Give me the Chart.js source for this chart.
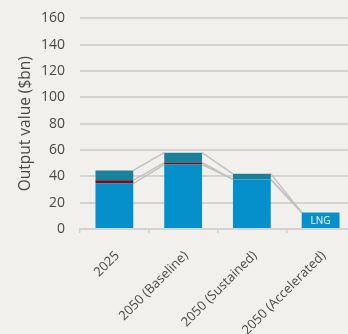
<!DOCTYPE html>
<html>
<head>
<meta charset="utf-8">
<script src="https://cdn.jsdelivr.net/npm/chart.js@4"></script>
<style>
  html, body { margin: 0; padding: 0; background: #f2f0ec; overflow: hidden; }
  #wrap { width: 360px; height: 339px; margin-top: -5px; }
</style>
</head>
<body>
<div id="wrap"><canvas id="chart"></canvas></div>
<script>
const categories = ['2025', '2050 (Baseline)', '2050 (Sustained)', '2050 (Accelerated)'];
const baseValues = [34.5, 49, 37.7, 12.5];
const midValues = [2.5, 1.5, 0, 0];
const topValues = [7.5, 7.5, 4.2, 0];
const barLabels = ['', '', '', 'LNG'];
const yTickValues = [0, 20, 40, 60, 80, 100, 120, 140, 160];

const textColor = '#484848';
const gridColor = '#d6d3ce';

// thin grey lines joining each segment top to the same segment on the next bar
const seriesLines = {
    id: 'seriesLines',
    beforeDatasetsDraw(chart) {
        const ctx = chart.ctx;
        ctx.save();
        ctx.strokeStyle = '#c4c2be';
        ctx.lineWidth = 1.5;
        chart.data.datasets.forEach((ds, di) => {
            const bars = chart.getDatasetMeta(di).data;
            for (let i = 0; i < bars.length - 1; i++) {
                const a = bars[i], b = bars[i + 1];
                ctx.beginPath();
                ctx.moveTo(a.x + a.width / 2, a.y);
                ctx.lineTo(b.x - b.width / 2, b.y);
                ctx.stroke();
            }
        });
        ctx.restore();
    }
};

// text written inside the lower segment
const barText = {
    id: 'barText',
    afterDatasetsDraw(chart) {
        const ctx = chart.ctx;
        const bars = chart.getDatasetMeta(0).data;
        ctx.save();
        ctx.fillStyle = '#ffffff';
        ctx.font = '10px "Open Sans"';
        ctx.textAlign = 'center';
        ctx.textBaseline = 'middle';
        barLabels.forEach((t, i) => {
            if (!t) return;
            const el = bars[i];
            ctx.fillText(t, el.x, (el.y + el.base) / 2 + 1);
        });
        ctx.restore();
    }
};

const ctx = document.getElementById('chart').getContext('2d');

new Chart(ctx, {
    type: 'bar',
    data: {
        labels: categories,
        datasets: [
            { label: 'base', data: baseValues, backgroundColor: '#0590cc' },
            { label: 'mid', data: midValues, backgroundColor: '#6a1020' },
            { label: 'top', data: topValues, backgroundColor: '#19829a' }
        ]
    },
    options: {
        responsive: true,
        maintainAspectRatio: false,
        animation: false,
        layout: { padding: { top: 12, right: 5, left: 16, bottom: 0 } },
        datasets: {
            bar: { categoryPercentage: 1, barPercentage: 0.55, borderWidth: 0 }
        },
        scales: {
            x: {
                stacked: true,
                offset: true,
                grid: { offset: true, drawOnChartArea: false, color: gridColor, tickLength: 4, lineWidth: 1.5 },
                border: { color: gridColor, width: 1.5 },
                ticks: {
                    color: textColor,
                    font: { family: 'Open Sans', size: 13 },
                    minRotation: 45,
                    maxRotation: 45,
                    padding: 15,
                    labelOffset: 3
                },
                afterFit(scale) { scale.height = 105; }
            },
            y: {
                stacked: true,
                min: 0,
                max: 160,
                afterBuildTicks(scale) {
                    scale.ticks = yTickValues.map(v => ({ value: v }));
                },
                grid: { color: gridColor, lineWidth: 2, drawTicks: false },
                border: { display: false },
                ticks: {
                    color: textColor,
                    font: { family: 'Open Sans', size: 14 },
                    padding: 15
                },
                title: {
                    display: true,
                    text: 'Output value ($bn)',
                    color: textColor,
                    font: { family: 'Open Sans', size: 15.5 },
                    padding: { top: 0, bottom: 0 }
                },
                afterFit(scale) { scale.width = 64; }
            }
        },
        plugins: {
            legend: { display: false },
            tooltip: { enabled: false }
        }
    },
    plugins: [seriesLines, barText]
});
</script>
</body>
</html>
